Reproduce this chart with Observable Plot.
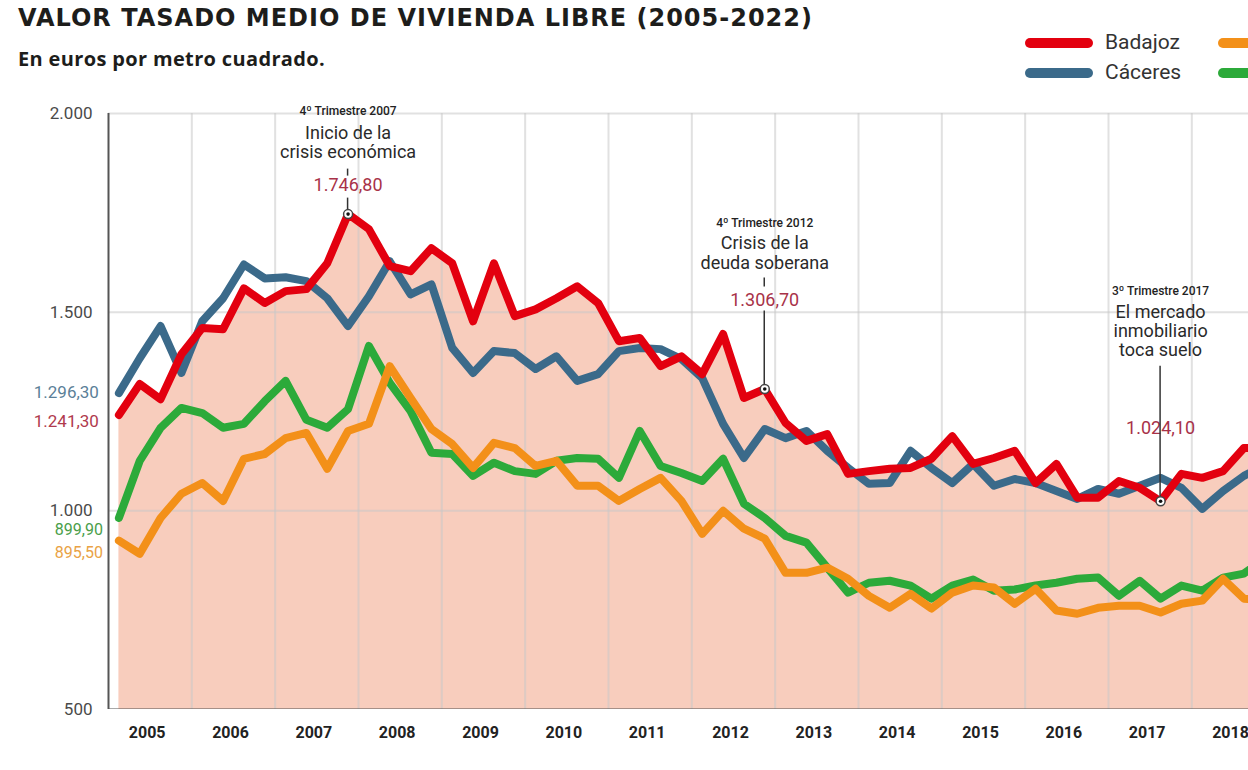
<!DOCTYPE html>
<html>
<head>
<meta charset="utf-8">
<script src="https://cdn.jsdelivr.net/npm/d3@7"></script>
<script src="https://cdn.jsdelivr.net/npm/@observablehq/plot@0.6"></script>
<style>
  html, body { margin: 0; padding: 0; background: #fff; width: 1248px; height: 770px; overflow: hidden; }
  #header { position: relative; height: 90px; width: 1248px; }
  #title { position: absolute; left: 18px; top: 4px; font-family: "DejaVu Sans", sans-serif; font-weight: 700; font-size: 24px; color: #1d1d1b; white-space: nowrap; letter-spacing: 1px; }
  #subtitle { position: absolute; left: 18px; top: 45px; font-family: "Open Sans", sans-serif; font-weight: 700; font-size: 20px; color: #1d1d1b; white-space: nowrap; letter-spacing: 0.35px; }
  .sw { position: absolute; height: 10px; width: 68px; border-radius: 5px; }
  .lg { position: absolute; font-family: Roboto, sans-serif; font-size: 21px; color: #333; white-space: nowrap; line-height: 24px; }
  #chart { position: absolute; left: 0; top: 90px; }
</style>
</head>
<body>
<div id="header">
  <div id="title">VALOR TASADO MEDIO DE VIVIENDA LIBRE (2005-2022)</div>
  <div id="subtitle">En euros por metro cuadrado.</div>
  <div class="sw" style="left:1025px; top:38px; background:#e3000f;"></div>
  <div class="lg" style="left:1105px; top:30px;">Badajoz</div>
  <div class="sw" style="left:1025px; top:68px; background:#3b6a8a;"></div>
  <div class="lg" style="left:1105px; top:60px;">Cáceres</div>
  <div class="sw" style="left:1218px; top:38px; background:#f39019;"></div>
  <div class="sw" style="left:1218px; top:68px; background:#2caa3a;"></div>
</div>
<div id="chart"></div>
<script>
// ---- Data (quarterly, from 2005 Q1) ----
const startYear = 2005;
const years = [2005, 2006, 2007, 2008, 2009, 2010, 2011, 2012, 2013, 2014, 2015, 2016, 2017, 2018];

const badajoz = [1241.3, 1319, 1281, 1394, 1460, 1457, 1560, 1523, 1553, 1558, 1623, 1746.8,
  1709, 1616, 1603, 1661, 1623, 1477, 1623, 1490, 1507, 1535, 1565, 1523,
  1427, 1435, 1364, 1389, 1344, 1445, 1284, 1306.7, 1221, 1176, 1193, 1093,
  1100, 1106, 1108, 1131, 1188, 1118, 1133, 1151, 1070, 1118, 1033, 1033,
  1075, 1058, 1024.1, 1093, 1083, 1100, 1158, 1160];

const caceres = [1296.3, 1384, 1465, 1347, 1477, 1535, 1620, 1585, 1588, 1578, 1535, 1465,
  1540, 1628, 1545, 1570, 1410, 1347, 1402, 1397, 1357, 1389, 1327, 1344,
  1402, 1410, 1407, 1382, 1334, 1219, 1133, 1206, 1183, 1201, 1151, 1108,
  1068, 1070, 1151, 1108, 1070, 1118, 1063, 1080, 1070, 1050, 1030, 1055,
  1043, 1063, 1083, 1058, 1005, 1050, 1088, 1115];

const verde = [982, 1126, 1209, 1259, 1246, 1209, 1219, 1276, 1327, 1229, 1209, 1256,
  1415, 1322, 1251, 1146, 1143, 1088, 1121, 1100, 1093, 1126, 1133, 1131,
  1083, 1201, 1113, 1095, 1075, 1131, 1018, 982, 937, 920, 857, 794,
  819, 824, 812, 779, 812, 827, 799, 802, 812, 819, 829, 832,
  786, 824, 779, 812, 799, 832, 842, 880];

const naranja = [925, 892, 982, 1043, 1070, 1025, 1131, 1143, 1183, 1196, 1106, 1201,
  1219, 1364, 1284, 1206, 1168, 1108, 1171, 1158, 1113, 1126, 1063, 1063,
  1025, 1055, 1083, 1025, 942, 1000, 955, 930, 844, 844, 857, 829,
  786, 756, 791, 754, 794, 812, 807, 766, 804, 749, 741, 756,
  761, 761, 744, 766, 774, 829, 779, 775];

// Labels of first values
const startLabels = ["1.296,30", "1.241,30", "899,90", "895,50"];

// Annotated events
const eventIndex = [11, 31, 50];
const eventHeads = ["4º Trimestre 2007", "4º Trimestre 2012", "3º Trimestre 2017"];
const eventTexts = [["Inicio de la", "crisis económica"], ["Crisis de la", "deuda soberana"], ["El mercado", "inmobiliario", "toca suelo"]];
const eventValues = ["1.746,80", "1.306,70", "1.024,10"];

// ---- Build tables ----
const tOf = i => startYear + (i + 0.5) / 4;
const toRows = (arr, name) => arr.map((v, i) => ({t: tOf(i), v, series: name}));
const rowsBad = toRows(badajoz, "Badajoz");
const rowsCac = toRows(caceres, "Cáceres");
const rowsVer = toRows(verde, "verde");
const rowsNar = toRows(naranja, "naranja");

const events = eventIndex.map((i, k) => ({t: tOf(i), v: badajoz[i], head: eventHeads[k], lines: eventTexts[k], label: eventValues[k]}));

// Layout of annotation pieces (pixel offsets from the marked point)
const evLayout = [
  {head: -103, lines: [-81, -62], value: -29, tick: [-45, -38], conn: [-16, 0]},
  {head: -166, lines: [-146, -126], value: -89, tick: [-111, -102], conn: [-78, 0]},
  {head: -210, lines: [-189, -170, -151], value: -73, tick: null, conn: [-135, 0]}
];

const RED = "#e3000f", BLUE = "#3b6a8a", GREEN = "#2caa3a", ORANGE = "#f39019";
const MAROON = "#a83248";
const annFont = "Roboto, sans-serif";

const fmtY = d => d3.format(",")(d).replace(/,/g, ".");

const annMarks = events.flatMap((ev, k) => {
  const L = evLayout[k];
  const m = [];
  m.push(Plot.text([ev], {x: "t", y: "v", text: "head", dy: L.head, fontSize: 12, fontWeight: 500, fill: "#222", fontFamily: annFont, letterSpacing: "-0.4px"}));
  ev.lines.forEach((s, j) => {
    m.push(Plot.text([ev], {x: "t", y: "v", text: () => s, dy: L.lines[j], fontSize: 18, fill: "#2a2a2a", fontFamily: annFont}));
  });
  m.push(Plot.text([ev], {x: "t", y: "v", text: "label", dy: L.value, fontSize: 18, fill: MAROON, fontFamily: annFont}));
  const segs = [L.conn].concat(L.tick ? [L.tick] : []);
  m.push((index, scales) => {
    const g = document.createElementNS("http://www.w3.org/2000/svg", "g");
    const x = scales.x(ev.t), y = scales.y(ev.v);
    for (const [a, b] of segs) {
      const ln = document.createElementNS("http://www.w3.org/2000/svg", "line");
      ln.setAttribute("x1", x); ln.setAttribute("x2", x);
      ln.setAttribute("y1", y + a); ln.setAttribute("y2", y + b);
      ln.setAttribute("stroke", "#333"); ln.setAttribute("stroke-width", 1.5);
      g.appendChild(ln);
    }
    return g;
  });
  return m;
});

const first = (rows) => [rows[0]];

const chart = Plot.plot({
  width: 1248,
  height: 680,
  marginLeft: 108,
  marginRight: 0,
  marginTop: 23,
  marginBottom: 61,
  x: {domain: [2005, 2018.68]},
  y: {domain: [500, 2000]},
  style: {fontFamily: annFont, background: "white", overflow: "visible"},
  marks: [
    Plot.areaY(rowsBad, {x: "t", y1: 500, y2: "v", fill: "#f8cdbd", clip: true}),
    Plot.gridX({ticks: years.slice(1), stroke: "#c8c8c8", strokeOpacity: 0.55, strokeWidth: 2}),
    Plot.gridY({ticks: [1000, 1500, 2000], stroke: "#c8c8c8", strokeOpacity: 0.55, strokeWidth: 2}),
    Plot.axisY({ticks: [500, 1000, 1500, 2000], tickFormat: fmtY, tickSize: 0, tickPadding: 16, fontSize: 17, fill: "#4a4a4a", label: null}),
    Plot.axisX({ticks: years.map(y => y + 0.5), tickFormat: d => String(Math.floor(d)), tickSize: 0, tickPadding: 17, dx: -3, fontSize: 16, fontWeight: 700, fill: "#222", label: null}),
    Plot.ruleX([2005], {stroke: "#555", strokeWidth: 2}),
    Plot.ruleY([500], {stroke: "#555", strokeWidth: 2, clip: true}),
    Plot.lineY(rowsVer, {x: "t", y: "v", stroke: GREEN, strokeWidth: 8, clip: true}),
    Plot.lineY(rowsNar, {x: "t", y: "v", stroke: ORANGE, strokeWidth: 8, clip: true}),
    Plot.lineY(rowsCac, {x: "t", y: "v", stroke: BLUE, strokeWidth: 8, clip: true}),
    Plot.lineY(rowsBad, {x: "t", y: "v", stroke: RED, strokeWidth: 8, clip: true}),
    ...annMarks,
    Plot.dot(events, {x: "t", y: "v", r: 4.5, fill: "white", stroke: "#444", strokeWidth: 1.5}),
    Plot.dot(events, {x: "t", y: "v", r: 1.8, fill: "#111"}),
    Plot.text(first(rowsCac), {x: "t", y: "v", text: () => startLabels[0], dx: -20, dy: -1, textAnchor: "end", fontSize: 17, fill: "#5b7f98"}),
    Plot.text(first(rowsBad), {x: "t", y: "v", text: () => startLabels[1], dx: -20, dy: 7, textAnchor: "end", fontSize: 17, fill: "#b03a4d"}),
    Plot.text(first(rowsVer), {x: "t", y: "v", text: () => startLabels[2], dx: -16, dy: 12, textAnchor: "end", fontSize: 16, fill: "#4a9e4a"}),
    Plot.text(first(rowsNar), {x: "t", y: "v", text: () => startLabels[3], dx: -16, dy: 12, textAnchor: "end", fontSize: 16, fill: "#e9a245"})
  ]
});
document.getElementById("chart").appendChild(chart);
</script>
</body>
</html>
